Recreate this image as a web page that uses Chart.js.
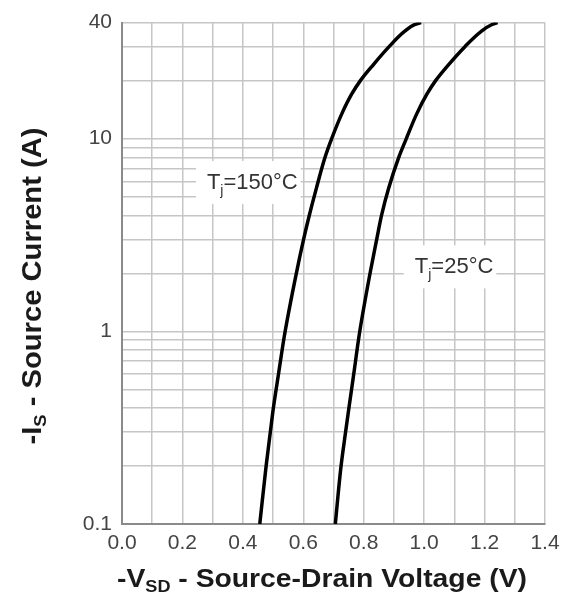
<!DOCTYPE html>
<html><head><meta charset="utf-8">
<script src="https://cdn.jsdelivr.net/npm/chart.js@4.4.1/dist/chart.umd.min.js"></script>
<style>html,body{margin:0;padding:0;background:#fff;}</style>
</head><body>
<canvas id="c" width="570" height="597"></canvas>
<script>
// ---- data ----
const vsd150 = [0.456,0.477,0.491,0.501,0.518,0.540,0.577,0.601,0.620,0.643,0.672,0.694,0.727,0.760,0.789,0.830,0.884,0.935,0.968,0.990];
const is150  = [0.1,0.2,0.3,0.4,0.6,1,2,3,4,5.5,8,10,13.4,17,20,24,30,36,39,40];
const vsd25  = [0.706,0.725,0.740,0.751,0.767,0.787,0.821,0.843,0.859,0.882,0.916,0.941,0.975,1.009,1.038,1.079,1.135,1.189,1.223,1.243];
const is25   = [0.1,0.2,0.3,0.4,0.6,1,2,3,4,5.5,8,10,13.4,17,20,24,30,36,39,40];
const xGridValues = [0,0.1,0.2,0.3,0.4,0.5,0.6,0.7,0.8,0.9,1.0,1.1,1.2,1.3,1.4];
const xTickLabels = ['0.0','0.2','0.4','0.6','0.8','1.0','1.2','1.4'];
const yGridValues = [0.1,0.2,0.3,0.4,0.5,0.6,0.7,0.8,0.9,1,2,3,4,5,6,7,8,9,10,20,30,40];
const yTickLabels = ['0.1','1','10','40'];
const seriesTemps = ['150','25'];

const FONT = "'Liberation Sans', Arial, Helvetica, sans-serif";

function drawRich(ctx, parts, x, y, opt) {
  opt = opt || {};
  let total = 0;
  parts.forEach(p => { ctx.font = (p.b ? 'bold ' : '') + p.s + 'px ' + FONT; p.w = ctx.measureText(p.t).width; total += p.w; });
  const sx = opt.targetWidth ? opt.targetWidth / total : (opt.sx || 1);
  ctx.save();
  ctx.translate(x, y);
  if (opt.rotate) ctx.rotate(opt.rotate);
  ctx.scale(sx, 1);
  ctx.fillStyle = opt.color || '#111';
  ctx.textAlign = 'left';
  ctx.textBaseline = 'alphabetic';
  let cx = opt.align === 'center' ? -total / 2 : 0;
  parts.forEach(p => { ctx.font = (p.b ? 'bold ' : '') + p.s + 'px ' + FONT; ctx.fillText(p.t, cx, p.dy || 0); cx += p.w; });
  ctx.restore();
  return total * sx;
}

const annotations = [
  { temp: seriesTemps[0], x: 0.281, y: 5.47 },
  { temp: seriesTemps[1], x: 0.969, y: 2.0 }
];

const decor = {
  id: 'decor',
  beforeDatasetsDraw(chart) {
    const ctx = chart.ctx, xs = chart.scales.x, ys = chart.scales.y;
    annotations.forEach(a => {
      const px = xs.getPixelForValue(a.x), py = ys.getPixelForValue(a.y);
      const parts = [{t:'T', s:22}, {t:'j', s:14, dy:6}, {t:'=' + a.temp + '°C', s:22}];
      let total = 0;
      parts.forEach(p => { ctx.font = p.s + 'px ' + FONT; total += ctx.measureText(p.t).width; });
      ctx.save();
      ctx.fillStyle = '#fff';
      ctx.fillRect(px - 11, py - 28, total + 14, 43);
      ctx.restore();
      drawRich(ctx, parts, px, py, {color:'#333'});
    });
  },
  afterDraw(chart) {
    const ctx = chart.ctx;
    drawRich(ctx, [{t:'-V', s:25, b:true}, {t:'SD', s:16, b:true, dy:5}, {t:' - Source-Drain Voltage (V)', s:25, b:true}],
      322, 587, {align:'center', targetWidth:410, color:'#1a1a1a'});
    drawRich(ctx, [{t:'-I', s:27, b:true}, {t:'S', s:17, b:true, dy:5}, {t:' - Source Current (A)', s:27, b:true}],
      41, 286, {align:'center', rotate:-Math.PI/2, targetWidth:317, color:'#1a1a1a'});
  }
};

new Chart(document.getElementById('c'), {
  type: 'line',
  data: {
    datasets: [
      { label: 'Tj=150°C', data: vsd150.map((v, i) => ({x: v, y: is150[i]})) },
      { label: 'Tj=25°C',  data: vsd25.map((v, i) => ({x: v, y: is25[i]})) }
    ].map(d => Object.assign(d, { borderColor:'#000', borderWidth:3.5, pointRadius:0, fill:false, cubicInterpolationMode:'monotone', borderCapStyle:'butt', borderJoinStyle:'round' }))
  },
  options: {
    indexAxis: 'y',
    responsive: false,
    animation: false,
    devicePixelRatio: 1,
    layout: { padding: { left: 0, top: 18, right: 25, bottom: 0 } },
    plugins: { legend: { display: false }, tooltip: { enabled: false } },
    scales: {
      x: {
        type: 'linear', min: 0, max: 1.4, position: 'bottom',
        afterBuildTicks: s => { s.ticks = xGridValues.map(v => ({ value: v })); },
        afterFit: s => { s.height = 73; },
        grid: { color: '#c6c6c6', lineWidth: 1.5, drawTicks: false },
        border: { display: true, color: '#8a8a8a', width: 2 },
        ticks: {
          autoSkip: false, maxRotation: 0, padding: 7, color: '#444',
          font: { family: FONT, size: 21 },
          callback: v => { const l = v.toFixed(1); return xTickLabels.includes(l) ? l : ''; }
        }
      },
      y: {
        type: 'logarithmic', min: 0.1, max: 40, position: 'left', reverse: false,
        afterBuildTicks: s => { s.ticks = yGridValues.map(v => ({ value: v })); },
        afterFit: s => { s.width = 122; },
        grid: { color: '#c6c6c6', lineWidth: 1.5, drawTicks: false },
        border: { display: true, color: '#8a8a8a', width: 2 },
        ticks: {
          autoSkip: false, padding: 10, color: '#444',
          font: { family: FONT, size: 21 },
          callback: v => { const l = String(+v.toPrecision(3)); return yTickLabels.includes(l) ? l : ''; }
        }
      }
    }
  },
  plugins: [decor]
});
</script>
</body></html>
